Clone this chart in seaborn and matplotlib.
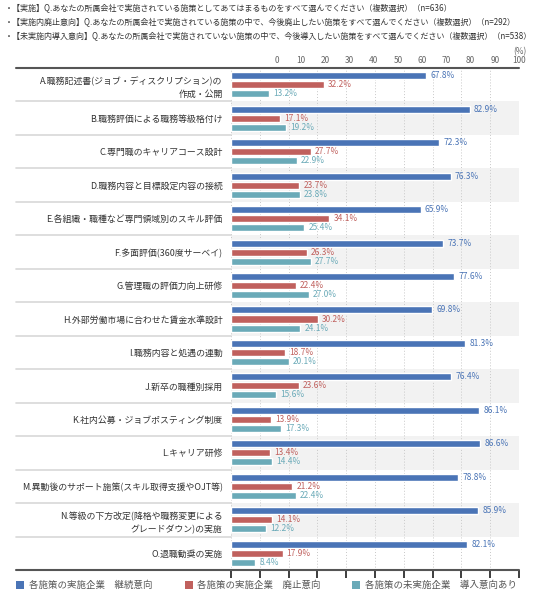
import matplotlib
matplotlib.use("Agg")
import matplotlib.pyplot as plt
import matplotlib.transforms as mtransforms
from matplotlib.patches import Rectangle
import seaborn as sns
import pandas as pd

categories = [
    "A.職務記述書(ジョブ・ディスクリプション)の\n作成・公開",
    "B.職務評価による職務等級格付け",
    "C.専門職のキャリアコース設計",
    "D.職務内容と目標設定内容の接続",
    "E.各組織・職種など専門領域別のスキル評価",
    "F.多面評価(360度サーベイ)",
    "G.管理職の評価力向上研修",
    "H.外部労働市場に合わせた賃金水準設計",
    "I.職務内容と処遇の連動",
    "J.新卒の職種別採用",
    "K.社内公募・ジョブポスティング制度",
    "L.キャリア研修",
    "M.異動後のサポート施策(スキル取得支援やOJT等)",
    "N.等級の下方改定(降格や職務変更による\nグレードダウン)の実施",
    "O.退職勧奨の実施",
]
continue_vals = [67.8, 82.9, 72.3, 76.3, 65.9, 73.7, 77.6, 69.8, 81.3, 76.4, 86.1, 86.6, 78.8, 85.9, 82.1]
abolish_vals = [32.2, 17.1, 27.7, 23.7, 34.1, 26.3, 22.4, 30.2, 18.7, 23.6, 13.9, 13.4, 21.2, 14.1, 17.9]
introduce_vals = [13.2, 19.2, 22.9, 23.8, 25.4, 27.7, 27.0, 24.1, 20.1, 15.6, 17.3, 14.4, 22.4, 12.2, 8.4]
series_names = [
    "各施策の実施企業　継続意向",
    "各施策の実施企業　廃止意向",
    "各施策の未実施企業　導入意向あり",
]
colors = ["#4a74b6", "#c0605d", "#6aaab8"]
ticks = list(range(0, 101, 10))
header_lines = [
    "・【実施】Q.あなたの所属会社で実施されている施策としてあてはまるものをすべて選んでください（複数選択）（n=636）",
    "・【実施内廃止意向】Q.あなたの所属会社で実施されている施策の中で、今後廃止したい施策をすべて選んでください（複数選択）（n=292）",
    "・【未実施内導入意向】Q.あなたの所属会社で実施されていない施策の中で、今後導入したい施策をすべて選んでください（複数選択）（n=538）",
]

sns.set_theme(style="white")
plt.rcParams["font.family"] = ["Noto Sans CJK JP", "DejaVu Sans"]

df = pd.DataFrame({
    "category": categories * 3,
    "series": [s for s in series_names for _ in categories],
    "value": continue_vals + abolish_vals + introduce_vals,
})

W, H = 536, 606
fig = plt.figure(figsize=(W / 100, H / 100), dpi=100)
ax = fig.add_axes([231 / W, 1 - 570 / H, 288 / W, 502 / H])

sns.barplot(data=df, y="category", x="value", hue="series", order=categories,
            hue_order=series_names, palette=colors, orient="h", width=0.81,
            gap=0.22, legend=False, ax=ax, saturation=1, errorbar=None)

ax.set_xlim(0, 100)
ax.set_ylim(len(categories) - 0.5, -0.5)
ax.set_xlabel("")
ax.set_ylabel("")
for s in ax.spines.values():
    s.set_visible(False)
ax.set_xticks(ticks)
ax.tick_params(axis="x", bottom=False, labelbottom=False, top=False, labeltop=False)
ax.xaxis.grid(True, color="#c8c8c8", linestyle=(0, (1, 2)), lw=0.7)
ax.yaxis.grid(False)
ax.set_axisbelow(True)
ax.tick_params(axis="y", length=0, pad=6, labelsize=6.4, labelcolor="#333333")
for lab in ax.get_yticklabels():
    lab.set_linespacing(1.55)

for i in range(1, len(categories), 2):
    ax.axhspan(i - 0.5, i + 0.5, color="#f2f2f2", zorder=0, lw=0)

trans = mtransforms.blended_transform_factory(ax.transAxes, ax.transData)
x0 = (16 - 231) / 288
for i in range(len(categories) - 1):
    ax.plot([x0, 0], [i + 0.5] * 2, transform=trans, color="#d8d8d8", lw=1.2, clip_on=False)
for yy in (-0.5, len(categories) - 0.5):
    ax.plot([x0, 1], [yy] * 2, transform=trans, color="#555555", lw=1.5, clip_on=False, zorder=5)

for cont, c in zip(ax.containers, colors):
    ax.bar_label(cont, fmt="%.1f%%", padding=3, color=c, fontsize=6)

ax2 = ax.twiny()
ax2.set_xlim(-18.9, 99.6)
ax2.set_xticks(ticks)
ax2.set_xticklabels([str(t) for t in ticks])
ax2.tick_params(axis="x", length=0, pad=2, labelsize=6, labelcolor="#666666")
for s in ax2.spines.values():
    s.set_visible(False)
ax2.grid(False)

fig.text(520 / W, 1 - 52 / H, "(%)", ha="center", va="center", fontsize=6, color="#666666")

for k, line in enumerate(header_lines):
    fig.text(5 / W, 1 - (8 + 14 * k) / H, line, ha="left", va="center", fontsize=5.8, color="#333333")

leg_sq = [16, 185, 352]
leg_tx = [29, 197, 365]
for xs, xt, name, c in zip(leg_sq, leg_tx, series_names, colors):
    fig.patches.append(Rectangle((xs / W, 1 - 589 / H), 8 / W, 8 / H,
                                 transform=fig.transFigure, color=c, lw=0))
    fig.text(xt / W, 1 - 585 / H, name, ha="left", va="center", fontsize=6.8, color="#555555")

fig.savefig("out.png", dpi=100)
